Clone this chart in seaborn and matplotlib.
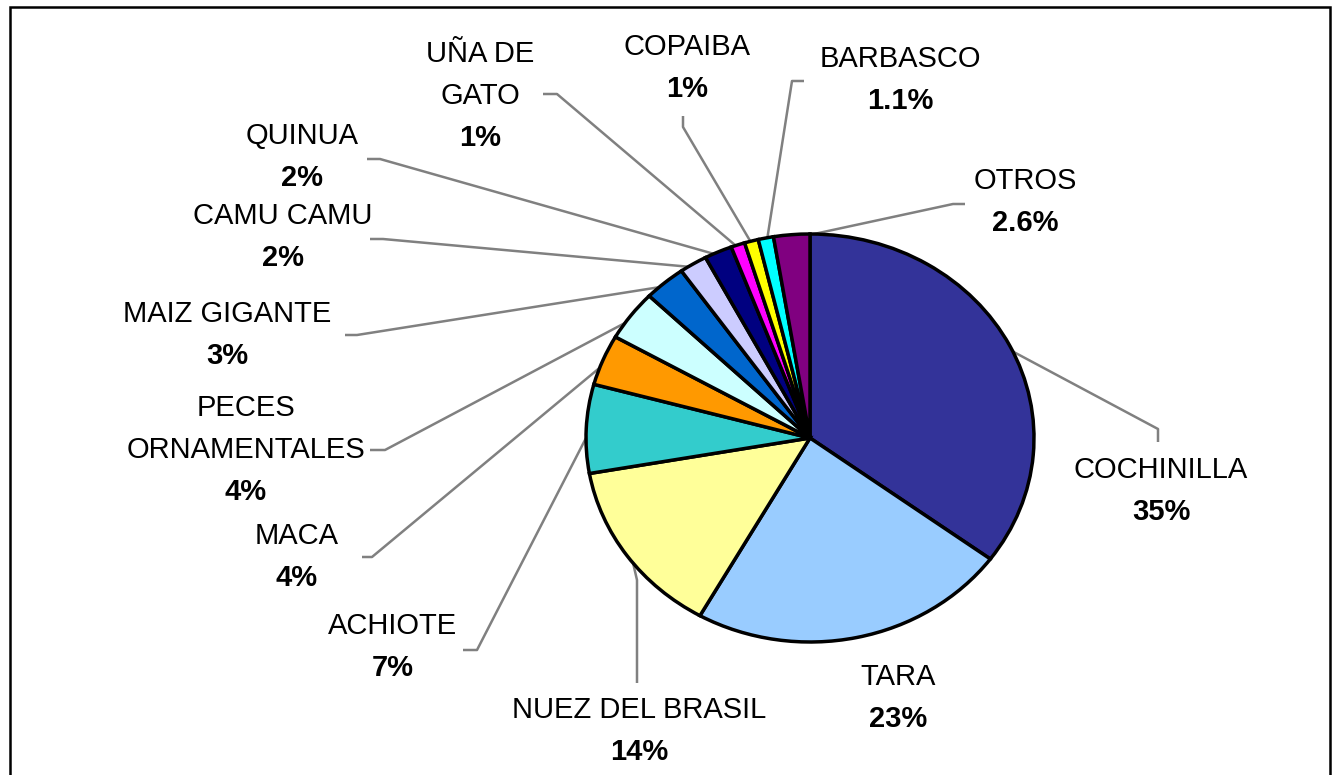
import matplotlib.pyplot as plt
import seaborn as sns
import numpy as np
from matplotlib.patches import Rectangle

# Data
names = ["COCHINILLA", "TARA", "NUEZ DEL BRASIL", "ACHIOTE", "MACA",
         "PECES\nORNAMENTALES", "MAIZ GIGANTE", "CAMU CAMU", "QUINUA",
         "UÑA DE\nGATO", "COPAIBA", "BARBASCO", "OTROS"]
shares = [35, 23, 14, 7, 4, 4, 3, 2, 2, 1, 1, 1.1, 2.6]
pct_labels = ["35%", "23%", "14%", "7%", "4%", "4%", "3%", "2%", "2%",
              "1%", "1%", "1.1%", "2.6%"]
colors = ["#333399", "#99CCFF", "#FFFF99", "#33CCCC", "#FF9900", "#CCFFFF",
          "#0066CC", "#CCCCFF", "#000080", "#FF00FF", "#FFFF00", "#00FFFF",
          "#800080"]

# Layout (pixels): centre of the percent line, and leader elbow points
label_pos = [(1161, 512), (898, 719), (639, 752), (393, 668), (297, 578),
             (246, 492), (227, 356), (283, 258), (302, 178), (480, 138),
             (687, 89), (900, 101), (1025, 223)]
leaders = [[(1158, 442), (1158, 429)], None, [(637, 683), (637, 580)],
           [(463, 650), (477, 650)], [(362, 557), (372, 557)],
           [(370, 450), (385, 450)], [(345, 335), (357, 335)],
           [(370, 239), (383, 239)], [(367, 159), (380, 159)],
           [(543, 94), (557, 94)], [(683, 116), (683, 127)],
           [(804, 81), (792, 81)], [(965, 204), (953, 204)]]

W, H = 1340, 775
cx, cy, rx, ry = 810, 438, 224, 204
line_gap = 42
font_size = 21

sns.set_theme(style="white")
plt.rcParams['font.family'] = ['Liberation Sans', 'DejaVu Sans']

fig = plt.figure(figsize=(W / 100, H / 100), dpi=100)
ax = fig.add_axes([0, 0, 1, 1])

palette = sns.color_palette(colors)
wedges, _ = ax.pie(shares, colors=palette, startangle=90, counterclock=False,
                   radius=1, center=(0, 0),
                   wedgeprops=dict(edgecolor='black', linewidth=2.5))
ax.set_aspect('auto')
ax.set_xlim(-cx / rx, (W - cx) / rx)
ax.set_ylim((cy - H) / ry, cy / ry)
ax.axis('off')


def to_data(px, py):
    return (px - cx) / rx, (cy - py) / ry


# Labels
for name, pct, (lx, ly) in zip(names, pct_labels, label_pos):
    x, y = to_data(lx, ly)
    ax.text(x, y, pct, ha='center', va='center', fontsize=font_size,
            fontweight='bold', color='black')
    lines = name.split("\n")
    for k, line in enumerate(reversed(lines)):
        x2, y2 = to_data(lx, ly - line_gap * (k + 1))
        ax.text(x2, y2, line, ha='center', va='center', fontsize=font_size,
                color='black')

# Leader lines to the middle of each wedge
for w, path in zip(wedges, leaders):
    if path is None:
        continue
    mid = np.deg2rad((w.theta1 + w.theta2) / 2)
    ax_ = 0.98 * np.cos(mid)
    ay_ = 0.98 * np.sin(mid)
    pts = [to_data(px, py) for px, py in path] + [(ax_, ay_)]
    xs, ys = zip(*pts)
    ax.plot(xs, ys, color='#808080', lw=1.8, zorder=0.5, solid_capstyle='butt')

# Outer chart border (bottom edge runs off the image)
fig.patches.append(Rectangle((10 / W, -0.05), 1320 / W, 1 - 7 / H + 0.05,
                             transform=fig.transFigure, fill=False,
                             edgecolor='black', linewidth=1.8))

plt.savefig('out.png', dpi=100)
